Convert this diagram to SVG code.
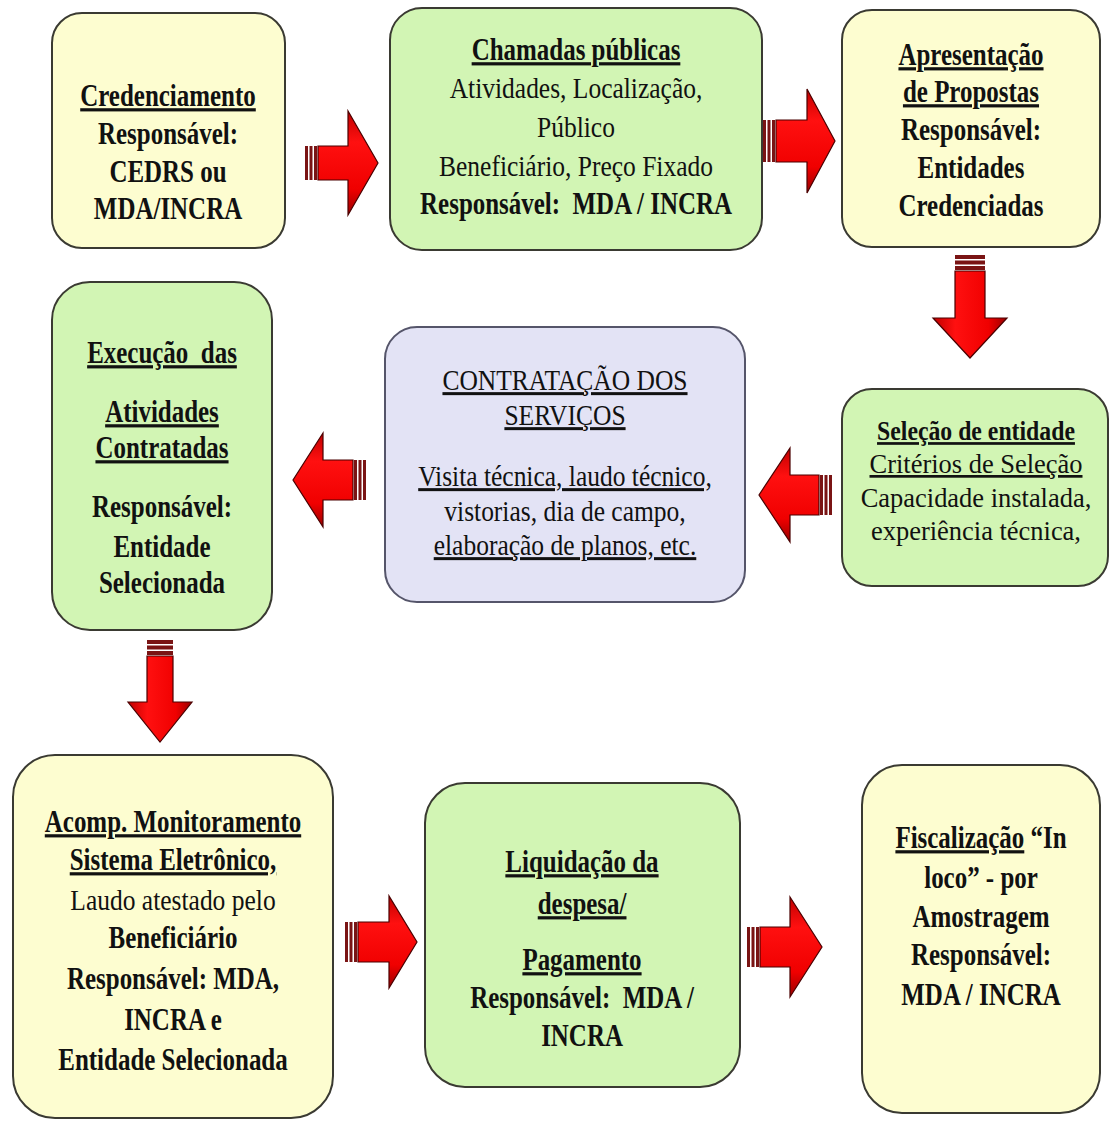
<svg xmlns="http://www.w3.org/2000/svg" width="1110" height="1122" viewBox="0 0 1110 1122">
<style>
.box{stroke:#3a3a32;stroke-width:2}
.y{fill:#fdfdd0}.g{fill:#d2f5b4}.l{fill:#e3e3f5;stroke:#55556a}
text{font-family:"Liberation Serif","Times New Roman",serif;fill:#111;text-anchor:middle;transform-box:fill-box;transform-origin:center;white-space:pre}
.b{font-size:32px;font-weight:bold;transform:scaleX(0.78)}
.n{font-size:30px;transform:scaleX(0.85)}
.s{font-size:27px;font-weight:bold;transform:scaleX(0.88)}
.sn{font-size:27px;transform:scaleX(0.98)}
.u{text-decoration:underline;text-decoration-thickness:2px;text-underline-offset:4px}
.arr{stroke:#4a0000;stroke-width:1.2}
.h{fill:url(#rh)}.v{fill:url(#rv)}
.st{fill:#7a1414}
</style>
<defs>
<linearGradient id="rh" x1="0" y1="0" x2="0" y2="1">
<stop offset="0" stop-color="#c00000"/><stop offset="0.3" stop-color="#ff1010"/><stop offset="0.75" stop-color="#f00000"/><stop offset="1" stop-color="#9a0000"/>
</linearGradient>
<linearGradient id="rv" x1="0" y1="0" x2="1" y2="0">
<stop offset="0" stop-color="#c00000"/><stop offset="0.3" stop-color="#ff1010"/><stop offset="0.75" stop-color="#f00000"/><stop offset="1" stop-color="#9a0000"/>
</linearGradient>
</defs>
<rect width="1110" height="1122" fill="#fff"/>

<g id="connectors">
<g id="a1"><rect class="st" x="305" y="146" width="3" height="34"/><rect class="st" x="309.5" y="146" width="3" height="34"/><rect class="st" x="314" y="146" width="3" height="34"/>
<polygon class="arr h" points="318,146 348,146 348,111 378,163 348,215 348,180 318,180"/></g>
<g id="a2"><rect class="st" x="763" y="120" width="3" height="42"/><rect class="st" x="767.5" y="120" width="3" height="42"/><rect class="st" x="772" y="120" width="3" height="42"/>
<polygon class="arr h" points="776,120 807,120 807,89 835,141 807,193 807,162 776,162"/></g>
<g id="a3"><rect class="st" x="955" y="255" width="30" height="4"/><rect class="st" x="955" y="260.5" width="30" height="4"/><rect class="st" x="955" y="266" width="30" height="4"/>
<polygon class="arr v" points="955,271 985,271 985,318 1007,318 970,358 933,318 955,318"/></g>
<g id="a4"><rect class="st" x="820" y="475" width="3" height="40"/><rect class="st" x="824.5" y="475" width="3" height="40"/><rect class="st" x="829" y="475" width="3" height="40"/>
<polygon class="arr h" points="819,475 790,475 790,448 759,495 790,542 790,515 819,515"/></g>
<g id="a5"><rect class="st" x="354" y="460" width="3" height="40"/><rect class="st" x="358.5" y="460" width="3" height="40"/><rect class="st" x="363" y="460" width="3" height="40"/>
<polygon class="arr h" points="353,460 323,460 323,433 293,480 323,527 323,500 353,500"/></g>
<g id="a6"><rect class="st" x="147" y="640" width="26" height="4"/><rect class="st" x="147" y="645.5" width="26" height="4"/><rect class="st" x="147" y="651" width="26" height="4"/>
<polygon class="arr v" points="147,656 173,656 173,702 192,702 160,742 128,702 147,702"/></g>
<g id="a7"><rect class="st" x="345" y="922" width="3" height="40"/><rect class="st" x="349.5" y="922" width="3" height="40"/><rect class="st" x="354" y="922" width="3" height="40"/>
<polygon class="arr h" points="358,922 389,922 389,896 417,942 389,988 389,962 358,962"/></g>
<g id="a8"><rect class="st" x="747" y="927" width="3" height="40"/><rect class="st" x="751.5" y="927" width="3" height="40"/><rect class="st" x="756" y="927" width="3" height="40"/>
<polygon class="arr h" points="760,927 790,927 790,897 822,947 790,997 790,967 760,967"/></g>
</g>

<g id="credenciamento">
<rect class="box y" x="52" y="13" width="233" height="235" rx="30"/>
<text class="b u" x="168" y="106">Credenciamento</text>
<text class="b" x="168" y="144">Responsável:</text>
<text class="b" x="168" y="182">CEDRS ou</text>
<text class="b" x="168" y="219">MDA/INCRA</text>
</g>

<g id="chamadas">
<rect class="box g" x="390" y="8" width="372" height="242" rx="32"/>
<text class="b u" x="576" y="60">Chamadas públicas</text>
<text class="n" x="576" y="98">Atividades, Localização,</text>
<text class="n" x="576" y="137">Público</text>
<text class="n" x="576" y="176">Beneficiário, Preço Fixado</text>
<text class="b" x="576" y="214">Responsável:  MDA / INCRA</text>
</g>

<g id="apresentacao">
<rect class="box y" x="842" y="10" width="258" height="237" rx="30"/>
<text class="b u" x="971" y="65">Apresentação</text>
<text class="b u" x="971" y="102">de Propostas</text>
<text class="b" x="971" y="140">Responsável:</text>
<text class="b" x="971" y="178">Entidades</text>
<text class="b" x="971" y="216">Credenciadas</text>
</g>

<g id="selecao">
<rect class="box g" x="842" y="389" width="266" height="197" rx="30"/>
<text class="s u" x="976" y="440">Seleção de entidade</text>
<text class="sn u" x="976" y="473">Critérios de Seleção</text>
<text class="sn" x="976" y="507">Capacidade instalada,</text>
<text class="sn" x="976" y="540">experiência técnica,</text>
</g>

<g id="contratacao">
<rect class="box l" x="385" y="327" width="360" height="275" rx="32"/>
<text class="n u" x="565" y="390">CONTRATAÇÃO DOS</text>
<text class="n u" x="565" y="425">SERVIÇOS</text>
<text class="n u" x="565" y="486">Visita técnica, laudo técnico,</text>
<text class="n" x="565" y="521">vistorias, dia de campo,</text>
<text class="n u" x="565" y="555">elaboração de planos, etc.</text>
</g>

<g id="execucao">
<rect class="box g" x="52" y="282" width="220" height="348" rx="38"/>
<text class="b u" x="162" y="363">Execução  das</text>
<text class="b u" x="162" y="422">Atividades</text>
<text class="b u" x="162" y="458">Contratadas</text>
<text class="b" x="162" y="517">Responsável:</text>
<text class="b" x="162" y="557">Entidade</text>
<text class="b" x="162" y="593">Selecionada</text>
</g>

<g id="acompanhamento">
<rect class="box y" x="13" y="755" width="320" height="363" rx="42"/>
<text class="b u" x="173" y="832">Acomp. Monitoramento</text>
<text class="b u" x="173" y="870">Sistema Eletrônico,</text>
<text class="n" x="173" y="910">Laudo atestado pelo</text>
<text class="b" x="173" y="948">Beneficiário</text>
<text class="b" x="173" y="989">Responsável: MDA,</text>
<text class="b" x="173" y="1030">INCRA e</text>
<text class="b" x="173" y="1070">Entidade Selecionada</text>
</g>

<g id="liquidacao">
<rect class="box g" x="425" y="783" width="315" height="304" rx="40"/>
<text class="b u" x="582" y="872">Liquidação da</text>
<text class="b u" x="582" y="914">despesa/</text>
<text class="b u" x="582" y="970">Pagamento</text>
<text class="b" x="582" y="1008">Responsável:  MDA /</text>
<text class="b" x="582" y="1046">INCRA</text>
</g>

<g id="fiscalizacao">
<rect class="box y" x="862" y="765" width="238" height="348" rx="40"/>
<text class="b" x="981" y="848"><tspan class="u">Fiscalização</tspan> “In</text>
<text class="b" x="981" y="888">loco” - por</text>
<text class="b" x="981" y="927">Amostragem</text>
<text class="b" x="981" y="965">Responsável:</text>
<text class="b" x="981" y="1005">MDA / INCRA</text>
</g>
</svg>
